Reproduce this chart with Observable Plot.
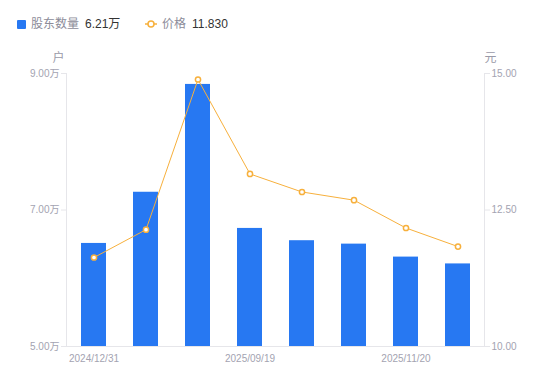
<!DOCTYPE html>
<html><head><meta charset="utf-8">
<script src="https://cdn.jsdelivr.net/npm/d3@7"></script>
<script src="https://cdn.jsdelivr.net/npm/@observablehq/plot@0.6"></script>
<style>
body{margin:0;background:#fff;font-family:"Liberation Sans","Noto Sans CJK SC",sans-serif;}
#wrap{width:550px;height:381px;position:relative;}
#legend{height:40px;position:relative;font-size:12px;}
#legend span{position:absolute;top:16px;line-height:16px;white-space:nowrap;}
</style></head>
<body><div id="wrap"><div id="legend"></div><div id="chart"></div></div>
<script>
const dates = ["2024/12/31","2025/03/31","2025/06/30","2025/09/19","2025/09/30","2025/10/31","2025/11/20","2025/11/30"];
const holders = [6.51, 7.26, 8.84, 6.73, 6.55, 6.50, 6.31, 6.21]; // 万户
const prices = [11.63, 12.14, 14.89, 13.16, 12.83, 12.68, 12.17, 11.83]; // 元
const leftTicks = [5, 7, 9];
const rightTicks = [10, 12.5, 15];
const seriesNames = ["股东数量", "价格"];

const barColor = "#2778f2";
const lineColor = "#f7b03c";
const axisColor = "#e6e6ea";
const labelColor = "#a3a3b1";

// map price (right axis) onto left scale
const pToL = p => 5 + (p - 10) * 4 / 5;
const lToP = l => 10 + (l - 5) * 5 / 4;

const data = dates.map((d, i) => ({date: d, holders: holders[i], price: prices[i], pl: pToL(prices[i])}));

// legend
const lg = document.getElementById("legend");
lg.innerHTML = `
<span style="left:17px;top:20px;width:9px;height:9px;background:${barColor};border-radius:1px;"></span>
<span style="left:31px;color:#8c8c99">${seriesNames[0]}</span>
<span style="left:85px;color:#333">${holders[holders.length-1].toFixed(2)}万</span>
<svg style="position:absolute;left:145px;top:19px" width="12" height="10"><line x1="0" y1="5" x2="12" y2="5" stroke="${lineColor}" stroke-width="1.5"/><circle cx="6" cy="5" r="3" fill="#fff" stroke="${lineColor}" stroke-width="1.5"/></svg>
<span style="left:162px;color:#8c8c99">${seriesNames[1]}</span>
<span style="left:192px;color:#333">${prices[prices.length-1].toFixed(3)}</span>`;

const chart = Plot.plot({
  width: 550,
  height: 341,
  marginTop: 33,
  marginBottom: 35,
  marginLeft: 66,
  marginRight: 66,
  style: {fontFamily: "Liberation Sans, Noto Sans CJK SC, sans-serif", fontSize: "10px", color: labelColor, background: "#fff"},
  x: {domain: dates, paddingInner: 0.52, paddingOuter: 0.26},
  y: {domain: [5, 9]},
  marks: [
    Plot.barY(data, {x: "date", y1: 5, y2: "holders", fill: barColor}),
    Plot.ruleY([5], {stroke: axisColor}),
    Plot.axisY({anchor: "left", ticks: leftTicks, tickFormat: d => d.toFixed(2) + "万", tickSize: 5, tickPadding: 2, stroke: axisColor, fill: labelColor, label: null}),
    Plot.axisY({anchor: "right", ticks: rightTicks.map(pToL), tickFormat: d => lToP(d).toFixed(2), tickSize: 5, tickPadding: 2, stroke: axisColor, fill: labelColor, label: null}),
    Plot.frame({anchor: "left", stroke: axisColor}),
    Plot.frame({anchor: "right", stroke: axisColor}),
    Plot.axisX({ticks: [dates[0], dates[3], dates[6]], tickSize: 0, tickPadding: 8, fill: labelColor, label: null}),
    Plot.line(data, {x: "date", y: "pl", stroke: lineColor, strokeWidth: 1}),
    Plot.dot(data, {x: "date", y: "pl", r: 2.6, fill: "#fff", stroke: lineColor, strokeWidth: 1.5}),
    Plot.text(["户"], {frameAnchor: "top-left", textAnchor: "middle", dx: -8, dy: -20, fill: "#9a9aa8", fontSize: 12}),
    Plot.text(["元"], {frameAnchor: "top-right", textAnchor: "middle", dx: 6, dy: -20, fill: "#9a9aa8", fontSize: 12})
  ]
});
document.getElementById("chart").appendChild(chart);
</script></body></html>
